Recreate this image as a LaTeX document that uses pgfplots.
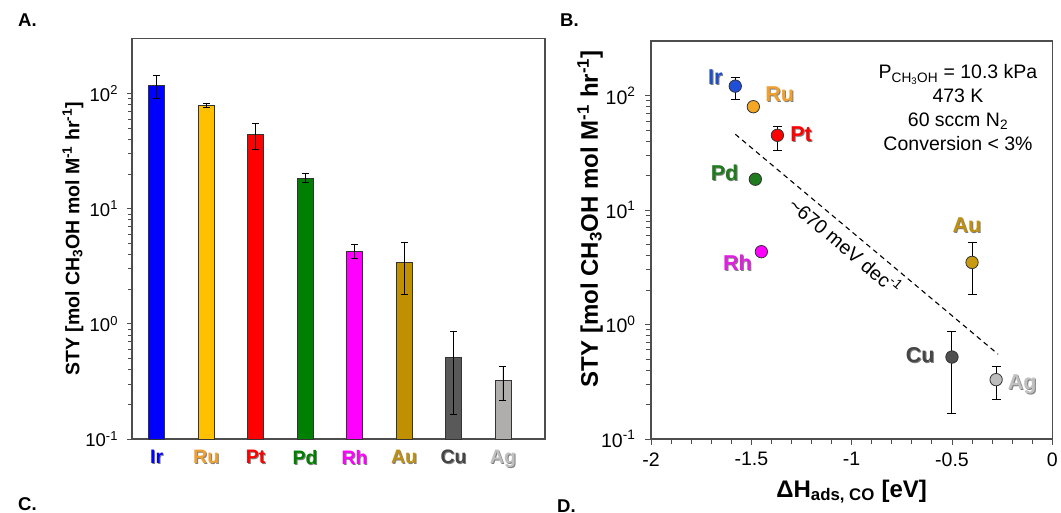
\documentclass[border=0pt]{standalone}
\usepackage{pgfplots}
\pgfplotsset{compat=1.18}
\usepackage{fontspec}
\setmainfont{Liberation Sans}
\definecolor{axgray}{HTML}{4D4D4D}
\definecolor{shgray}{HTML}{808080}
\definecolor{irA}{HTML}{0000FF}
\definecolor{ruA}{HTML}{FFC000}
\definecolor{ptA}{HTML}{FF0000}
\definecolor{pdA}{HTML}{008000}
\definecolor{rhA}{HTML}{FF00FF}
\definecolor{auA}{HTML}{BF9000}
\definecolor{cuA}{HTML}{595959}
\definecolor{agA}{HTML}{B0ADAD}
\definecolor{irB}{HTML}{1F4FD8}
\definecolor{ruB}{HTML}{F5A623}
\definecolor{ptB}{HTML}{FF0000}
\definecolor{pdB}{HTML}{1E7B1E}
\definecolor{rhB}{HTML}{FF00FF}
\definecolor{auB}{HTML}{C89A10}
\definecolor{cuB}{HTML}{505050}
\definecolor{agB}{HTML}{BDBDBD}
\definecolor{irL}{HTML}{1F4FC8}
\definecolor{ruL}{HTML}{F0A030}
\definecolor{ptL}{HTML}{FF0000}
\definecolor{pdL}{HTML}{1E7B1E}
\definecolor{rhL}{HTML}{E020E0}
\definecolor{auL}{HTML}{C09010}
\definecolor{cuL}{HTML}{454545}
\definecolor{agL}{HTML}{C0C0C0}
\newcommand\shd[2]{\makebox[0pt][l]{\hspace{1pt}\raisebox{-1pt}{\textcolor{shgray}{#2}}}\textcolor{#1}{#2}}
\newcommand\labB{\fontsize{21.5}{24}\selectfont\bfseries}
\pgfplotsset{
  ebA/.style={error bars/.cd, y dir=both, y explicit,
    error bar style={black, line width=0.8pt},
    error mark options={rotate=90, mark size=3.5pt, black, line width=0.8pt}},
  ebB/.style={error bars/.cd, y dir=both, y explicit,
    error bar style={black, line width=1pt},
    error mark options={rotate=90, mark size=4.5pt, black, line width=1pt}},
  barA/.style={draw=black!80, line width=0.6pt, bar shift=0pt, fill=#1},
  ptBs/.style={only marks, mark=*, mark size=6.2pt, mark options={draw=black!80, line width=0.8pt, fill=#1}},
}
\begin{document}
\begin{tikzpicture}
\path[use as bounding box] (0,0) rectangle (1061pt,512pt);
\node[anchor=base west, inner sep=0pt, font=\fontsize{18.5}{20}\selectfont\bfseries] at (18pt,485pt) {A.};
\node[anchor=base west, inner sep=0pt, font=\fontsize{18.5}{20}\selectfont\bfseries] at (560pt,485pt) {B.};
\node[anchor=base west, inner sep=0pt, font=\fontsize{18.5}{20}\selectfont\bfseries] at (18pt,1.5pt) {C.};
\node[anchor=base west, inner sep=0pt, font=\fontsize{18.5}{20}\selectfont\bfseries] at (557pt,-0.5pt) {D.};

% ---------------- Panel A ----------------
\begin{axis}[
  at={(132pt,73pt)}, anchor=south west,
  scale only axis, width=413pt, height=400.3pt,
  ymode=log, ymin=0.1, ymax=300, log origin=infty,
  xmin=-0.5, xmax=7.85,
  ybar, bar width=16pt,
  axis line style={axgray, line width=1.1pt},
  ytick={0.1,1,10,100},
  yticklabels={10\textsuperscript{-1},10\textsuperscript{0},10\textsuperscript{1},10\textsuperscript{2}},
  xtick={0,1,2,3,4,5,6,7},
  xticklabels={\shd{irA}{Ir},\shd{ruL}{Ru},\shd{ptA}{Pt},\shd{pdA}{Pd},\shd{rhA}{Rh},\shd{auL}{Au},\shd{cuL}{Cu},\shd{agL}{Ag}},
  x tick style={draw=none},
  ytick pos=left, tick align=outside,
  major tick length=4.5pt, minor tick length=4pt,
  y tick style={axgray, line width=0.9pt},
  yticklabel style={font=\fontsize{18.5}{20}\selectfont, xshift=-6pt},
  xticklabel style={font=\fontsize{19.5}{21}\selectfont\bfseries, yshift=-3pt},
  ylabel={STY [mol CH\textsubscript{3}OH mol M\textsuperscript{-1} hr\textsuperscript{-1}]},
  ylabel style={font=\fontsize{19.5}{22}\selectfont\bfseries, at={(axis description cs:-0.143,0.5)}, anchor=center},
]
\addplot[barA=irA, ebA] coordinates {(0,118) += (0,27) -= (0,27)};
\addplot[barA=ruA, ebA] coordinates {(1,79) += (0,3) -= (0,3)};
\addplot[barA=ptA, ebA] coordinates {(2,44.4) += (0,10.6) -= (0,11.4)};
\addplot[barA=pdA, ebA] coordinates {(3,18.4) += (0,1.7) -= (0,1.6)};
\addplot[barA=rhA, ebA] coordinates {(4,4.26) += (0,0.64) -= (0,0.56)};
\addplot[barA=auA, ebA] coordinates {(5,3.44) += (0,1.66) -= (0,1.64)};
\addplot[barA=cuA, ebA] coordinates {(6,0.513) += (0,0.344) -= (0,0.348)};
\addplot[barA=agA, ebA] coordinates {(7,0.321) += (0,0.104) -= (0,0.103)};
\end{axis}

% ---------------- Panel B ----------------
\begin{axis}[
  at={(651pt,73pt)}, anchor=south west,
  scale only axis, width=401.3pt, height=398pt,
  ymode=log, ymin=0.1, ymax=300,
  xmin=-2, xmax=0,
  axis line style={axgray, line width=1.1pt},
  ytick={0.1,1,10,100},
  yticklabels={10\textsuperscript{-1},10\textsuperscript{0},10\textsuperscript{1},10\textsuperscript{2}},
  xtick={-2,-1.5,-1,-0.5,0},
  xticklabels={-2,-1.5,-1,-0.5,0},
  minor x tick num=4,
  xtick pos=bottom, ytick pos=left, tick align=outside,
  major tick length=6pt, minor tick length=5.5pt,
  tick style={axgray, line width=0.9pt},
  yticklabel style={font=\fontsize{19.5}{21}\selectfont, xshift=-6pt},
  xticklabel style={font=\fontsize{19.5}{21}\selectfont, yshift=-4pt},
  ylabel={STY [mol CH\textsubscript{3}OH mol M\textsuperscript{-1} hr\textsuperscript{-1}]},
  ylabel style={font=\fontsize{24}{26}\selectfont\bfseries, at={(axis description cs:-0.152,0.553)}, anchor=center},
  xlabel={ΔH\textsubscript{ads, CO} [eV]},
  xlabel style={font=\fontsize{24}{26}\selectfont\bfseries, at={(axis description cs:0.5,-0.146)}, anchor=base},
  clip=false,
]
\addplot[black, dashed, line width=1.1pt, dash pattern=on 5pt off 4pt] coordinates {(-1.58,46) (-0.27,0.55)};
\addplot[ptBs=irB, ebB] coordinates {(-1.58,121) += (0,23) -= (0,29)};
\addplot[ptBs=ruB] coordinates {(-1.49,80)};
\addplot[ptBs=ptB, ebB] coordinates {(-1.37,45) += (0,9) -= (0,12)};
\addplot[ptBs=pdB] coordinates {(-1.48,18.6)};
\addplot[ptBs=rhB] coordinates {(-1.45,4.33)};
\addplot[ptBs=auB, ebB] coordinates {(-0.40,3.49) += (0,1.71) -= (0,1.67)};
\addplot[ptBs=cuB, ebB] coordinates {(-0.50,0.52) += (0,0.35) -= (0,0.353)};
\addplot[ptBs=agB, ebB] coordinates {(-0.28,0.33) += (0,0.10) -= (0,0.107)};
\node[anchor=base, font=\labB] at (axis cs:-1.679,124) {\shd{irL}{Ir}};
\node[anchor=base, font=\labB] at (axis cs:-1.359,88) {\shd{ruL}{Ru}};
\node[anchor=base, font=\labB] at (axis cs:-1.252,39.6) {\shd{ptL}{Pt}};
\node[anchor=base, font=\labB] at (axis cs:-1.633,18.0) {\shd{pdL}{Pd}};
\node[anchor=base, font=\labB] at (axis cs:-1.569,2.96) {\shd{rhL}{Rh}};
\node[anchor=base, font=\labB] at (axis cs:-0.425,6.36) {\shd{auL}{Au}};
\node[anchor=base, font=\labB] at (axis cs:-0.658,0.462) {\shd{cuL}{Cu}};
\node[anchor=base, font=\labB] at (axis cs:-0.150,0.269) {\shd{agL}{Ag}};
\node[rotate=-40, font=\fontsize{19.5}{21}\selectfont] at (axis cs:-1.03,4.9) {\char`\~670 meV dec\textsuperscript{-1}};
\end{axis}

\begin{scope}[every node/.style={anchor=base, inner sep=0pt, font=\fontsize{19.5}{21}\selectfont}]
\node at (958pt,433pt) {P\textsubscript{CH\textsubscript{3}OH} = 10.3 kPa};
\node at (958pt,409.7pt) {473 K};
\node at (958pt,385.3pt) {60 sccm N\textsubscript{2}};
\node at (958pt,361.3pt) {Conversion < 3\%};
\end{scope}
\end{tikzpicture}
\end{document}
